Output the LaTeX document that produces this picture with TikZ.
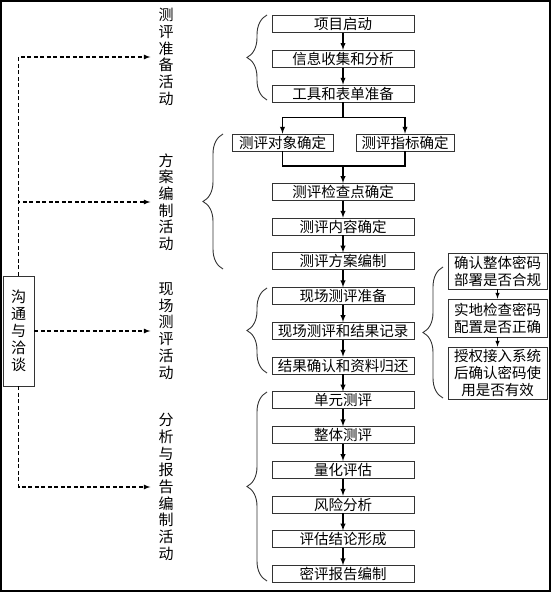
\documentclass[tikz,border=0pt]{standalone}
\usepackage{fontspec}
\newfontfamily\cjk{Noto Sans CJK SC}
\usetikzlibrary{decorations.pathreplacing}
\begin{document}
\begin{tikzpicture}[x=1pt,y=-1pt]
% Styles
\tikzstyle{fleche}=[->,>=latex,line width=1.3pt]
\tikzstyle{trait}=[line width=1.3pt]
\tikzstyle{pointille}=[->,>=latex,line width=1.2pt,dash pattern=on 4pt off 2.5pt]
\tikzstyle{boite}=[draw=black!80,line width=0.8pt,fill=white,minimum width=142pt,minimum height=17pt,inner sep=0pt,font=\cjk\fontsize{14.5}{17}\selectfont]
\tikzstyle{petiteboite}=[boite,minimum width=99pt,align=center]
\tikzstyle{titre}=[align=center,inner xsep=8pt,inner ysep=0pt,font=\cjk\fontsize{15}{16.7}\selectfont]
\tikzstyle{accolade}=[decorate,decoration={brace,amplitude=20pt},draw=black!80,line width=0.9pt]
% Dimensions
\def\Colonne{343}
\def\Haut{24}
\def\Pas{34.75}
\def\Decalage{0.83}
% Dimensions calculées
\def\Niveau#1{\Haut+(#1)*\Pas}
\def\NiveauBis#1{\Haut+(#1+\Decalage)*\Pas}
% Cadre
\useasboundingbox (0,0) rectangle (552,593);
\draw[line width=1.4pt] (1,1) rectangle (550,591);
% Noeuds
\node[boite] (Pa) at ({\Colonne},{\Niveau{0}}) {项目启动};
\node[boite] (Pb) at ({\Colonne},{\Niveau{1}}) {信息收集和分析};
\node[boite] (Pc) at ({\Colonne},{\Niveau{2}}) {工具和表单准备};
\node[boite,minimum width=101pt] (Oa) at (282.5,142.5) {测评对象确定};
\node[boite,minimum width=98pt] (Ob) at (405,142.5) {测评指标确定};
\node[boite] (Ma) at ({\Colonne},{\NiveauBis{4}}) {测评检查点确定};
\node[boite] (Mb) at ({\Colonne},{\NiveauBis{5}}) {测评内容确定};
\node[boite] (Mc) at ({\Colonne},{\NiveauBis{6}}) {测评方案编制};
\node[boite] (Sa) at ({\Colonne},{\NiveauBis{7}}) {现场测评准备};
\node[boite] (Sb) at ({\Colonne},{\NiveauBis{8}}) {现场测评和结果记录};
\node[boite] (Sc) at ({\Colonne},{\NiveauBis{9}}) {结果确认和资料归还};
\node[boite] (Ra) at ({\Colonne},{\NiveauBis{10}}) {单元测评};
\node[boite] (Rb) at ({\Colonne},{\NiveauBis{11}}) {整体测评};
\node[boite] (Rc) at ({\Colonne},{\NiveauBis{12}}) {量化评估};
\node[boite] (Rd) at ({\Colonne},{\NiveauBis{13}}) {风险分析};
\node[boite] (Re) at ({\Colonne},{\NiveauBis{14}}) {评估结论形成};
\node[boite] (Rf) at ({\Colonne},{\NiveauBis{15}}) {密评报告编制};
\node[petiteboite,minimum height=36pt] (Ca) at (497.5,271) {确认整体密码\\部署是否合规};
\node[petiteboite,minimum height=38pt] (Cb) at (497.5,318) {实地检查密码\\配置是否正确};
\node[petiteboite,minimum height=52pt] (Cc) at (497.5,373) {授权接入系统\\后确认密码使\\用是否有效};
\node[titre] (Tp) at (166,57) {测\\评\\准\\备\\活\\动};
\node[titre] (Tm) at (166,202) {方\\案\\编\\制\\活\\动};
\node[titre] (Ts) at (166,331) {现\\场\\测\\评\\活\\动};
\node[titre] (Tr) at (166,487) {分\\析\\与\\报\\告\\编\\制\\活\\动};
\node[boite,minimum width=31pt,minimum height=110pt,align=center,font=\cjk\fontsize{15}{17}\selectfont] (Com) at (18.5,331) {沟\\通\\与\\洽\\谈};
\coordinate (J) at ({\Colonne},166);
% Accolades
\draw[accolade] (267,100) -- (267,15);
\draw[accolade] (223,269) -- (223,134);
\draw[accolade] (267,373) -- (267,288);
\draw[accolade] (267,581) -- (267,392);
\draw[accolade] (443,398) -- (443,267);
% Arcs
\draw[fleche] (Pa.south)--(Pb.north);
\draw[fleche] (Pb.south)--(Pc.north);
\draw[fleche] (Pc.south) -- ++(0,15) -| (Oa.north);
\draw[fleche] (Pc.south) -- ++(0,15) -| (Ob.north);
\draw[trait] (Oa.south) |- (J);
\draw[trait] (Ob.south) |- (J);
\draw[fleche] (J)--(Ma.north);
\draw[fleche] (Ma.south)--(Mb.north);
\draw[fleche] (Mb.south)--(Mc.north);
\draw[fleche] (Mc.south)--(Sa.north);
\draw[fleche] (Sa.south)--(Sb.north);
\draw[fleche] (Sb.south)--(Sc.north);
\draw[fleche] (Sc.south)--(Ra.north);
\draw[fleche] (Ra.south)--(Rb.north);
\draw[fleche] (Rb.south)--(Rc.north);
\draw[fleche] (Rc.south)--(Rd.north);
\draw[fleche] (Rd.south)--(Re.north);
\draw[fleche] (Re.south)--(Rf.north);
\draw[fleche,line width=1pt] (Ca.south)--(Cb.north);
\draw[fleche,line width=1pt] (Cb.south)--(Cc.north);
\draw[pointille] (Com.north) |- (Tp.west);
\draw[pointille] (Com.north) |- (Tm.west);
\draw[pointille] (Com.east) -- (Ts.west);
\draw[pointille] (Com.south) |- (Tr.west);
\end{tikzpicture}
\end{document}
